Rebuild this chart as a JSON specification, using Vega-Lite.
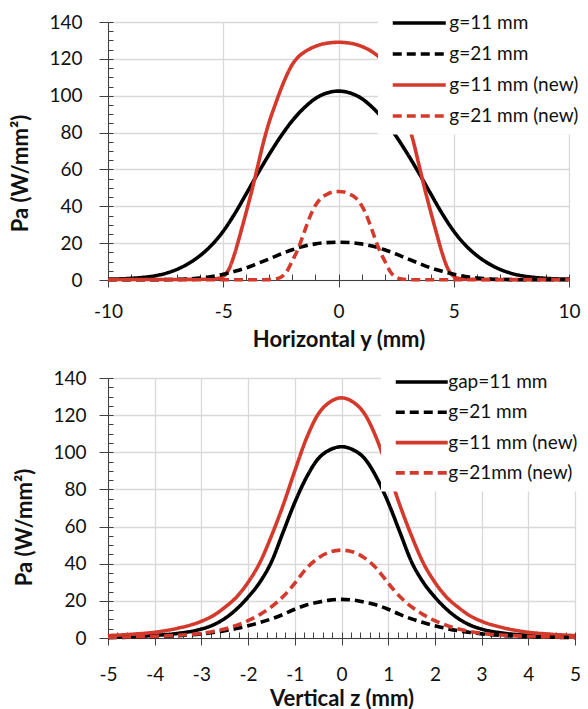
{
  "$schema": "https://vega.github.io/schema/vega-lite/v6.json",
  "background": "white",
  "padding": {"top": 5, "left": 9, "right": 0, "bottom": 0},
  "spacing": 13,
  "columns": 1,
  "align": "none",
  "config": {
    "font": "Lato",
    "view": {"stroke": "#595959", "strokeWidth": 1},
    "axis": {
      "labelFont": "Lato", "labelFontSize": 19, "labelColor": "#111111", "labelFlush": false,
      "titleFont": "Lato", "titleFontSize": 22, "titleFontWeight": "bold", "titleColor": "#111111",
      "domainColor": "#404040", "tickColor": "#404040", "gridColor": "#d9d9d9", "gridWidth": 1.3
    },
    "line": {"strokeWidth": 3.6, "interpolate": "monotone"}
  },
  "resolve": {"scale": {"color": "independent", "strokeDash": "independent"}, "legend": {"color": "independent", "strokeDash": "independent"}},
  "concat": [
    {
      "width": 461,
      "height": 258,
      "data": {"values": [
        {"h": -10, "pa": 0.5, "s": "g=11 mm"}, {"h": -9.5, "pa": 0.6, "s": "g=11 mm"}, {"h": -9, "pa": 0.9, "s": "g=11 mm"}, {"h": -8.5, "pa": 1.4, "s": "g=11 mm"}, {"h": -8, "pa": 2.2, "s": "g=11 mm"}, {"h": -7.5, "pa": 3.6, "s": "g=11 mm"}, {"h": -7, "pa": 5.8, "s": "g=11 mm"}, {"h": -6.5, "pa": 9, "s": "g=11 mm"}, {"h": -6, "pa": 13.3, "s": "g=11 mm"}, {"h": -5.5, "pa": 19, "s": "g=11 mm"}, {"h": -5, "pa": 26.5, "s": "g=11 mm"}, {"h": -4.5, "pa": 36, "s": "g=11 mm"}, {"h": -4, "pa": 46.8, "s": "g=11 mm"}, {"h": -3.5, "pa": 57.8, "s": "g=11 mm"}, {"h": -3, "pa": 68.3, "s": "g=11 mm"}, {"h": -2.5, "pa": 78, "s": "g=11 mm"}, {"h": -2, "pa": 86.5, "s": "g=11 mm"}, {"h": -1.5, "pa": 93.3, "s": "g=11 mm"}, {"h": -1, "pa": 98.5, "s": "g=11 mm"}, {"h": -0.5, "pa": 101.5, "s": "g=11 mm"}, {"h": 0, "pa": 102.5, "s": "g=11 mm"}, {"h": 0.5, "pa": 101.5, "s": "g=11 mm"}, {"h": 1, "pa": 98.5, "s": "g=11 mm"}, {"h": 1.5, "pa": 93.3, "s": "g=11 mm"}, {"h": 2, "pa": 86.5, "s": "g=11 mm"}, {"h": 2.5, "pa": 78, "s": "g=11 mm"}, {"h": 3, "pa": 68.3, "s": "g=11 mm"}, {"h": 3.5, "pa": 57.8, "s": "g=11 mm"}, {"h": 4, "pa": 46.8, "s": "g=11 mm"}, {"h": 4.5, "pa": 36, "s": "g=11 mm"}, {"h": 5, "pa": 26.5, "s": "g=11 mm"}, {"h": 5.5, "pa": 19, "s": "g=11 mm"}, {"h": 6, "pa": 13.3, "s": "g=11 mm"}, {"h": 6.5, "pa": 9, "s": "g=11 mm"}, {"h": 7, "pa": 5.8, "s": "g=11 mm"}, {"h": 7.5, "pa": 3.6, "s": "g=11 mm"}, {"h": 8, "pa": 2.2, "s": "g=11 mm"}, {"h": 8.5, "pa": 1.4, "s": "g=11 mm"}, {"h": 9, "pa": 0.9, "s": "g=11 mm"}, {"h": 9.5, "pa": 0.6, "s": "g=11 mm"}, {"h": 10, "pa": 0.5, "s": "g=11 mm"},
        {"h": -10, "pa": 0.1, "s": "g=21 mm"}, {"h": -9, "pa": 0.1, "s": "g=21 mm"}, {"h": -8, "pa": 0.1, "s": "g=21 mm"}, {"h": -7.5, "pa": 0.2, "s": "g=21 mm"}, {"h": -7, "pa": 0.3, "s": "g=21 mm"}, {"h": -6.5, "pa": 0.6, "s": "g=21 mm"}, {"h": -6, "pa": 1.1, "s": "g=21 mm"}, {"h": -5.5, "pa": 1.9, "s": "g=21 mm"}, {"h": -5, "pa": 3.1, "s": "g=21 mm"}, {"h": -4.5, "pa": 4.7, "s": "g=21 mm"}, {"h": -4, "pa": 6.6, "s": "g=21 mm"}, {"h": -3.5, "pa": 9, "s": "g=21 mm"}, {"h": -3, "pa": 11.5, "s": "g=21 mm"}, {"h": -2.5, "pa": 14.1, "s": "g=21 mm"}, {"h": -2, "pa": 16.4, "s": "g=21 mm"}, {"h": -1.5, "pa": 18.3, "s": "g=21 mm"}, {"h": -1, "pa": 19.6, "s": "g=21 mm"}, {"h": -0.5, "pa": 20.3, "s": "g=21 mm"}, {"h": 0, "pa": 20.5, "s": "g=21 mm"}, {"h": 0.5, "pa": 20.3, "s": "g=21 mm"}, {"h": 1, "pa": 19.6, "s": "g=21 mm"}, {"h": 1.5, "pa": 18.3, "s": "g=21 mm"}, {"h": 2, "pa": 16.4, "s": "g=21 mm"}, {"h": 2.5, "pa": 14.1, "s": "g=21 mm"}, {"h": 3, "pa": 11.5, "s": "g=21 mm"}, {"h": 3.5, "pa": 9, "s": "g=21 mm"}, {"h": 4, "pa": 6.6, "s": "g=21 mm"}, {"h": 4.5, "pa": 4.7, "s": "g=21 mm"}, {"h": 5, "pa": 3.1, "s": "g=21 mm"}, {"h": 5.5, "pa": 1.9, "s": "g=21 mm"}, {"h": 6, "pa": 1.1, "s": "g=21 mm"}, {"h": 6.5, "pa": 0.6, "s": "g=21 mm"}, {"h": 7, "pa": 0.3, "s": "g=21 mm"}, {"h": 7.5, "pa": 0.2, "s": "g=21 mm"}, {"h": 8, "pa": 0.1, "s": "g=21 mm"}, {"h": 9, "pa": 0.1, "s": "g=21 mm"}, {"h": 10, "pa": 0.1, "s": "g=21 mm"},
        {"h": -10, "pa": 0.3, "s": "g=11 mm (new)"}, {"h": -8, "pa": 0.3, "s": "g=11 mm (new)"}, {"h": -7, "pa": 0.3, "s": "g=11 mm (new)"}, {"h": -6, "pa": 0.4, "s": "g=11 mm (new)"}, {"h": -5.5, "pa": 0.5, "s": "g=11 mm (new)"}, {"h": -5.25, "pa": 0.8, "s": "g=11 mm (new)"}, {"h": -5, "pa": 2, "s": "g=11 mm (new)"}, {"h": -4.75, "pa": 6, "s": "g=11 mm (new)"}, {"h": -4.5, "pa": 14.5, "s": "g=11 mm (new)"}, {"h": -4.25, "pa": 25.5, "s": "g=11 mm (new)"}, {"h": -4, "pa": 37, "s": "g=11 mm (new)"}, {"h": -3.75, "pa": 49, "s": "g=11 mm (new)"}, {"h": -3.5, "pa": 62, "s": "g=11 mm (new)"}, {"h": -3.25, "pa": 75, "s": "g=11 mm (new)"}, {"h": -3, "pa": 86, "s": "g=11 mm (new)"}, {"h": -2.75, "pa": 95, "s": "g=11 mm (new)"}, {"h": -2.5, "pa": 103.5, "s": "g=11 mm (new)"}, {"h": -2.25, "pa": 111, "s": "g=11 mm (new)"}, {"h": -2, "pa": 117, "s": "g=11 mm (new)"}, {"h": -1.75, "pa": 121, "s": "g=11 mm (new)"}, {"h": -1.5, "pa": 123.5, "s": "g=11 mm (new)"}, {"h": -1, "pa": 126.8, "s": "g=11 mm (new)"}, {"h": -0.5, "pa": 128.5, "s": "g=11 mm (new)"}, {"h": 0, "pa": 129, "s": "g=11 mm (new)"}, {"h": 0.5, "pa": 128.5, "s": "g=11 mm (new)"}, {"h": 1, "pa": 126.8, "s": "g=11 mm (new)"}, {"h": 1.5, "pa": 123.5, "s": "g=11 mm (new)"}, {"h": 1.75, "pa": 121, "s": "g=11 mm (new)"}, {"h": 2, "pa": 117, "s": "g=11 mm (new)"}, {"h": 2.25, "pa": 111, "s": "g=11 mm (new)"}, {"h": 2.5, "pa": 103.5, "s": "g=11 mm (new)"}, {"h": 2.75, "pa": 95, "s": "g=11 mm (new)"}, {"h": 3, "pa": 86, "s": "g=11 mm (new)"}, {"h": 3.25, "pa": 75, "s": "g=11 mm (new)"}, {"h": 3.5, "pa": 62, "s": "g=11 mm (new)"}, {"h": 3.75, "pa": 49, "s": "g=11 mm (new)"}, {"h": 4, "pa": 37, "s": "g=11 mm (new)"}, {"h": 4.25, "pa": 25.5, "s": "g=11 mm (new)"}, {"h": 4.5, "pa": 14.5, "s": "g=11 mm (new)"}, {"h": 4.75, "pa": 6, "s": "g=11 mm (new)"}, {"h": 5, "pa": 2, "s": "g=11 mm (new)"}, {"h": 5.25, "pa": 0.8, "s": "g=11 mm (new)"}, {"h": 5.5, "pa": 0.5, "s": "g=11 mm (new)"}, {"h": 6, "pa": 0.4, "s": "g=11 mm (new)"}, {"h": 7, "pa": 0.3, "s": "g=11 mm (new)"}, {"h": 8, "pa": 0.3, "s": "g=11 mm (new)"}, {"h": 10, "pa": 0.3, "s": "g=11 mm (new)"},
        {"h": -10, "pa": 0.1, "s": "g=21 mm (new)"}, {"h": -6, "pa": 0.1, "s": "g=21 mm (new)"}, {"h": -4, "pa": 0.1, "s": "g=21 mm (new)"}, {"h": -3.5, "pa": 0.1, "s": "g=21 mm (new)"}, {"h": -3, "pa": 0.2, "s": "g=21 mm (new)"}, {"h": -2.75, "pa": 0.5, "s": "g=21 mm (new)"}, {"h": -2.5, "pa": 1.5, "s": "g=21 mm (new)"}, {"h": -2.25, "pa": 4.5, "s": "g=21 mm (new)"}, {"h": -2, "pa": 10.5, "s": "g=21 mm (new)"}, {"h": -1.75, "pa": 17, "s": "g=21 mm (new)"}, {"h": -1.5, "pa": 25.5, "s": "g=21 mm (new)"}, {"h": -1.25, "pa": 34, "s": "g=21 mm (new)"}, {"h": -1, "pa": 40.5, "s": "g=21 mm (new)"}, {"h": -0.75, "pa": 44.5, "s": "g=21 mm (new)"}, {"h": -0.5, "pa": 46.5, "s": "g=21 mm (new)"}, {"h": -0.25, "pa": 47.7, "s": "g=21 mm (new)"}, {"h": 0, "pa": 48, "s": "g=21 mm (new)"}, {"h": 0.25, "pa": 47.7, "s": "g=21 mm (new)"}, {"h": 0.5, "pa": 46.5, "s": "g=21 mm (new)"}, {"h": 0.75, "pa": 44.5, "s": "g=21 mm (new)"}, {"h": 1, "pa": 40.5, "s": "g=21 mm (new)"}, {"h": 1.25, "pa": 34, "s": "g=21 mm (new)"}, {"h": 1.5, "pa": 25.5, "s": "g=21 mm (new)"}, {"h": 1.75, "pa": 17, "s": "g=21 mm (new)"}, {"h": 2, "pa": 10.5, "s": "g=21 mm (new)"}, {"h": 2.25, "pa": 4.5, "s": "g=21 mm (new)"}, {"h": 2.5, "pa": 1.5, "s": "g=21 mm (new)"}, {"h": 2.75, "pa": 0.5, "s": "g=21 mm (new)"}, {"h": 3, "pa": 0.2, "s": "g=21 mm (new)"}, {"h": 3.5, "pa": 0.1, "s": "g=21 mm (new)"}, {"h": 4, "pa": 0.1, "s": "g=21 mm (new)"}, {"h": 6, "pa": 0.1, "s": "g=21 mm (new)"}, {"h": 10, "pa": 0.1, "s": "g=21 mm (new)"}
      ]},
      "resolve": {"axis": {"x": "independent", "y": "independent"}},
      "layer": [
        {
          "transform": [{"filter": "datum.s == 'g=11 mm' || datum.s == 'g=11 mm (new)'"}],
          "mark": {"type": "line"},
          "encoding": {
            "x": {"field": "h", "type": "quantitative", "scale": {"domain": [-10, 10], "nice": false},
                  "axis": {"values": [-10, -5, 0, 5, 10], "labelExpr": "'' + datum.value", "grid": true, "tickSize": 7, "labelPadding": 15, "title": "Horizontal y (mm)", "titlePadding": 8}},
            "y": {"field": "pa", "type": "quantitative", "scale": {"domain": [0, 140], "nice": false},
                  "axis": {"values": [0, 20, 40, 60, 80, 100, 120, 140], "grid": true, "tickSize": 9, "labelPadding": 17, "title": "Pa  (W/mm²)", "titlePadding": 16, "titleY": 151}},
            "color": {"field": "s", "type": "nominal",
                      "scale": {"domain": ["g=11 mm", "g=21 mm", "g=11 mm (new)", "g=21 mm (new)"], "range": ["#000000", "#000000", "#d43a2c", "#d43a2c"]},
                      "legend": {"orient": "none", "legendX": 270, "legendY": -16.5, "title": null, "fillColor": "white", "padding": 8, "symbolType": "M-5.3,0H5.3", "symbolSize": 100, "symbolStrokeWidth": 3.6, "symbolOffset": 23.75, "labelOffset": 20.5, "labelFontSize": 19, "labelFont": "Lato", "labelColor": "#111111", "rowPadding": 11, "labelLimit": 300}},
            "strokeDash": {"field": "s", "type": "nominal",
                      "scale": {"domain": ["g=11 mm", "g=21 mm", "g=11 mm (new)", "g=21 mm (new)"], "range": [[1, 0], [9, 5], [1, 0], [9, 5]]},
                      "legend": {"orient": "none", "legendX": 270, "legendY": -16.5, "title": null, "fillColor": "white", "padding": 8, "symbolType": "M-5.3,0H5.3", "symbolSize": 100, "symbolStrokeWidth": 3.6, "symbolOffset": 23.75, "labelOffset": 20.5, "labelFontSize": 19, "labelFont": "Lato", "labelColor": "#111111", "rowPadding": 11, "labelLimit": 300}}
          }
        },
        {
          "transform": [{"filter": "datum.s == 'g=21 mm' || datum.s == 'g=21 mm (new)'"}],
          "mark": {"type": "line"},
          "encoding": {
            "x": {"field": "h", "type": "quantitative",
                  "axis": {"orient": "bottom", "values": [-10, -9, -8, -7, -6, -5, -4, -3, -2, -1, 0, 1, 2, 3, 4, 5, 6, 7, 8, 9, 10], "labels": false, "domain": false, "grid": false, "tickSize": -6, "title": null}},
            "y": {"field": "pa", "type": "quantitative",
                  "axis": {"orient": "left", "values": [0, 5, 10, 15, 20, 25, 30, 35, 40, 45, 50, 55, 60, 65, 70, 75, 80, 85, 90, 95, 100, 105, 110, 115, 120, 125, 130, 135, 140], "labels": false, "domain": false, "grid": false, "tickSize": -5, "title": null}},
            "color": {"field": "s", "type": "nominal"},
            "strokeDash": {"field": "s", "type": "nominal"}
          }
        }
      ]
    },
    {
      "width": 467,
      "height": 260,
      "data": {"values": [
        {"v": -5, "pa": 0.5, "s": "gap=11 mm"}, {"v": -4.5, "pa": 0.8, "s": "gap=11 mm"}, {"v": -4, "pa": 1.4, "s": "gap=11 mm"}, {"v": -3.5, "pa": 2.5, "s": "gap=11 mm"}, {"v": -3, "pa": 4.8, "s": "gap=11 mm"}, {"v": -2.75, "pa": 7, "s": "gap=11 mm"}, {"v": -2.5, "pa": 10.5, "s": "gap=11 mm"}, {"v": -2.25, "pa": 15.5, "s": "gap=11 mm"}, {"v": -2, "pa": 22, "s": "gap=11 mm"}, {"v": -1.75, "pa": 30, "s": "gap=11 mm"}, {"v": -1.5, "pa": 41, "s": "gap=11 mm"}, {"v": -1.25, "pa": 57, "s": "gap=11 mm"}, {"v": -1, "pa": 73, "s": "gap=11 mm"}, {"v": -0.75, "pa": 86.5, "s": "gap=11 mm"}, {"v": -0.5, "pa": 96.5, "s": "gap=11 mm"}, {"v": -0.25, "pa": 101.3, "s": "gap=11 mm"}, {"v": 0, "pa": 103, "s": "gap=11 mm"}, {"v": 0.25, "pa": 101.3, "s": "gap=11 mm"}, {"v": 0.5, "pa": 96.5, "s": "gap=11 mm"}, {"v": 0.75, "pa": 86.5, "s": "gap=11 mm"}, {"v": 1, "pa": 73, "s": "gap=11 mm"}, {"v": 1.25, "pa": 57, "s": "gap=11 mm"}, {"v": 1.5, "pa": 41, "s": "gap=11 mm"}, {"v": 1.75, "pa": 30, "s": "gap=11 mm"}, {"v": 2, "pa": 22, "s": "gap=11 mm"}, {"v": 2.25, "pa": 15.5, "s": "gap=11 mm"}, {"v": 2.5, "pa": 10.5, "s": "gap=11 mm"}, {"v": 2.75, "pa": 7, "s": "gap=11 mm"}, {"v": 3, "pa": 4.8, "s": "gap=11 mm"}, {"v": 3.5, "pa": 2.5, "s": "gap=11 mm"}, {"v": 4, "pa": 1.4, "s": "gap=11 mm"}, {"v": 4.5, "pa": 0.8, "s": "gap=11 mm"}, {"v": 5, "pa": 0.5, "s": "gap=11 mm"},
        {"v": -5, "pa": 0.2, "s": "g=21 mm"}, {"v": -4.5, "pa": 0.4, "s": "g=21 mm"}, {"v": -4, "pa": 0.7, "s": "g=21 mm"}, {"v": -3.5, "pa": 1.3, "s": "g=21 mm"}, {"v": -3, "pa": 2.2, "s": "g=21 mm"}, {"v": -2.75, "pa": 3, "s": "g=21 mm"}, {"v": -2.5, "pa": 3.9, "s": "g=21 mm"}, {"v": -2.25, "pa": 5.1, "s": "g=21 mm"}, {"v": -2, "pa": 6.6, "s": "g=21 mm"}, {"v": -1.75, "pa": 8.3, "s": "g=21 mm"}, {"v": -1.5, "pa": 10.3, "s": "g=21 mm"}, {"v": -1.25, "pa": 12.7, "s": "g=21 mm"}, {"v": -1, "pa": 15.5, "s": "g=21 mm"}, {"v": -0.75, "pa": 17.8, "s": "g=21 mm"}, {"v": -0.5, "pa": 19.3, "s": "g=21 mm"}, {"v": -0.25, "pa": 20.4, "s": "g=21 mm"}, {"v": 0, "pa": 20.8, "s": "g=21 mm"}, {"v": 0.25, "pa": 20.4, "s": "g=21 mm"}, {"v": 0.5, "pa": 19.3, "s": "g=21 mm"}, {"v": 0.75, "pa": 17.8, "s": "g=21 mm"}, {"v": 1, "pa": 15.5, "s": "g=21 mm"}, {"v": 1.25, "pa": 12.7, "s": "g=21 mm"}, {"v": 1.5, "pa": 10.3, "s": "g=21 mm"}, {"v": 1.75, "pa": 8.3, "s": "g=21 mm"}, {"v": 2, "pa": 6.6, "s": "g=21 mm"}, {"v": 2.25, "pa": 5.1, "s": "g=21 mm"}, {"v": 2.5, "pa": 3.9, "s": "g=21 mm"}, {"v": 2.75, "pa": 3, "s": "g=21 mm"}, {"v": 3, "pa": 2.2, "s": "g=21 mm"}, {"v": 3.5, "pa": 1.3, "s": "g=21 mm"}, {"v": 4, "pa": 0.7, "s": "g=21 mm"}, {"v": 4.5, "pa": 0.4, "s": "g=21 mm"}, {"v": 5, "pa": 0.2, "s": "g=21 mm"},
        {"v": -5, "pa": 1.3, "s": "g=11 mm (new)"}, {"v": -4.5, "pa": 2, "s": "g=11 mm (new)"}, {"v": -4, "pa": 3.1, "s": "g=11 mm (new)"}, {"v": -3.5, "pa": 5.3, "s": "g=11 mm (new)"}, {"v": -3, "pa": 9, "s": "g=11 mm (new)"}, {"v": -2.75, "pa": 12, "s": "g=11 mm (new)"}, {"v": -2.5, "pa": 16.5, "s": "g=11 mm (new)"}, {"v": -2.25, "pa": 22, "s": "g=11 mm (new)"}, {"v": -2, "pa": 30, "s": "g=11 mm (new)"}, {"v": -1.75, "pa": 40.5, "s": "g=11 mm (new)"}, {"v": -1.5, "pa": 55, "s": "g=11 mm (new)"}, {"v": -1.25, "pa": 71.5, "s": "g=11 mm (new)"}, {"v": -1, "pa": 90, "s": "g=11 mm (new)"}, {"v": -0.75, "pa": 107.5, "s": "g=11 mm (new)"}, {"v": -0.5, "pa": 120.5, "s": "g=11 mm (new)"}, {"v": -0.25, "pa": 127, "s": "g=11 mm (new)"}, {"v": 0, "pa": 129.3, "s": "g=11 mm (new)"}, {"v": 0.25, "pa": 127, "s": "g=11 mm (new)"}, {"v": 0.5, "pa": 120.5, "s": "g=11 mm (new)"}, {"v": 0.75, "pa": 107.5, "s": "g=11 mm (new)"}, {"v": 1, "pa": 90, "s": "g=11 mm (new)"}, {"v": 1.25, "pa": 71.5, "s": "g=11 mm (new)"}, {"v": 1.5, "pa": 55, "s": "g=11 mm (new)"}, {"v": 1.75, "pa": 40.5, "s": "g=11 mm (new)"}, {"v": 2, "pa": 30, "s": "g=11 mm (new)"}, {"v": 2.25, "pa": 22, "s": "g=11 mm (new)"}, {"v": 2.5, "pa": 16.5, "s": "g=11 mm (new)"}, {"v": 2.75, "pa": 12, "s": "g=11 mm (new)"}, {"v": 3, "pa": 9, "s": "g=11 mm (new)"}, {"v": 3.5, "pa": 5.3, "s": "g=11 mm (new)"}, {"v": 4, "pa": 3.1, "s": "g=11 mm (new)"}, {"v": 4.5, "pa": 2, "s": "g=11 mm (new)"}, {"v": 5, "pa": 1.3, "s": "g=11 mm (new)"},
        {"v": -5, "pa": 0.4, "s": "g=21mm (new)"}, {"v": -4.5, "pa": 0.6, "s": "g=21mm (new)"}, {"v": -4, "pa": 0.9, "s": "g=21mm (new)"}, {"v": -3.5, "pa": 1.5, "s": "g=21mm (new)"}, {"v": -3, "pa": 2.5, "s": "g=21mm (new)"}, {"v": -2.75, "pa": 3.5, "s": "g=21mm (new)"}, {"v": -2.5, "pa": 4.8, "s": "g=21mm (new)"}, {"v": -2.25, "pa": 6.8, "s": "g=21mm (new)"}, {"v": -2, "pa": 9.3, "s": "g=21mm (new)"}, {"v": -1.75, "pa": 12.6, "s": "g=21mm (new)"}, {"v": -1.5, "pa": 16.8, "s": "g=21mm (new)"}, {"v": -1.25, "pa": 22.3, "s": "g=21mm (new)"}, {"v": -1, "pa": 29.5, "s": "g=21mm (new)"}, {"v": -0.75, "pa": 37.5, "s": "g=21mm (new)"}, {"v": -0.5, "pa": 43, "s": "g=21mm (new)"}, {"v": -0.25, "pa": 46.3, "s": "g=21mm (new)"}, {"v": 0, "pa": 47.3, "s": "g=21mm (new)"}, {"v": 0.25, "pa": 46.3, "s": "g=21mm (new)"}, {"v": 0.5, "pa": 43, "s": "g=21mm (new)"}, {"v": 0.75, "pa": 37.5, "s": "g=21mm (new)"}, {"v": 1, "pa": 29.5, "s": "g=21mm (new)"}, {"v": 1.25, "pa": 22.3, "s": "g=21mm (new)"}, {"v": 1.5, "pa": 16.8, "s": "g=21mm (new)"}, {"v": 1.75, "pa": 12.6, "s": "g=21mm (new)"}, {"v": 2, "pa": 9.3, "s": "g=21mm (new)"}, {"v": 2.25, "pa": 6.8, "s": "g=21mm (new)"}, {"v": 2.5, "pa": 4.8, "s": "g=21mm (new)"}, {"v": 2.75, "pa": 3.5, "s": "g=21mm (new)"}, {"v": 3, "pa": 2.5, "s": "g=21mm (new)"}, {"v": 3.5, "pa": 1.5, "s": "g=21mm (new)"}, {"v": 4, "pa": 0.9, "s": "g=21mm (new)"}, {"v": 4.5, "pa": 0.6, "s": "g=21mm (new)"}, {"v": 5, "pa": 0.4, "s": "g=21mm (new)"}
      ]},
      "resolve": {"axis": {"x": "independent", "y": "independent"}},
      "layer": [
        {
          "transform": [{"filter": "datum.s == 'gap=11 mm' || datum.s == 'g=11 mm (new)'"}],
          "mark": {"type": "line"},
          "encoding": {
            "x": {"field": "v", "type": "quantitative", "scale": {"domain": [-5, 5], "nice": false},
                  "axis": {"values": [-5, -4, -3, -2, -1, 0, 1, 2, 3, 4, 5], "labelExpr": "'' + datum.value", "grid": true, "tickSize": 7, "labelPadding": 20, "title": "Vertical z (mm)", "titlePadding": 4}},
            "y": {"field": "pa", "type": "quantitative", "scale": {"domain": [0, 140], "nice": false},
                  "axis": {"values": [0, 20, 40, 60, 80, 100, 120, 140], "grid": true, "tickSize": 9, "labelPadding": 13, "title": "Pa  (W/mm²)", "titlePadding": 16, "titleY": 149}},
            "color": {"field": "s", "type": "nominal",
                      "scale": {"domain": ["gap=11 mm", "g=21 mm", "g=11 mm (new)", "g=21mm (new)"], "range": ["#000000", "#000000", "#d43a2c", "#d43a2c"]},
                      "legend": {"orient": "none", "legendX": 273, "legendY": -13.5, "title": null, "fillColor": "white", "padding": 8, "symbolType": "M-5.2,0H5.2", "symbolSize": 100, "symbolStrokeWidth": 3.6, "symbolOffset": 23.25, "labelOffset": 17, "labelFontSize": 19, "labelFont": "Lato", "labelColor": "#111111", "rowPadding": 10.3, "labelLimit": 300}},
            "strokeDash": {"field": "s", "type": "nominal",
                      "scale": {"domain": ["gap=11 mm", "g=21 mm", "g=11 mm (new)", "g=21mm (new)"], "range": [[1, 0], [9, 5], [1, 0], [9, 5]]},
                      "legend": {"orient": "none", "legendX": 273, "legendY": -13.5, "title": null, "fillColor": "white", "padding": 8, "symbolType": "M-5.2,0H5.2", "symbolSize": 100, "symbolStrokeWidth": 3.6, "symbolOffset": 23.25, "labelOffset": 17, "labelFontSize": 19, "labelFont": "Lato", "labelColor": "#111111", "rowPadding": 10.3, "labelLimit": 300}}
          }
        },
        {
          "transform": [{"filter": "datum.s == 'g=21 mm' || datum.s == 'g=21mm (new)'"}],
          "mark": {"type": "line"},
          "encoding": {
            "x": {"field": "v", "type": "quantitative",
                  "axis": {"orient": "bottom", "values": [-5, -4.8, -4.6, -4.4, -4.2, -4, -3.8, -3.6, -3.4, -3.2, -3, -2.8, -2.6, -2.4, -2.2, -2, -1.8, -1.6, -1.4, -1.2, -1, -0.8, -0.6, -0.4, -0.2, 0, 0.2, 0.4, 0.6, 0.8, 1, 1.2, 1.4, 1.6, 1.8, 2, 2.2, 2.4, 2.6, 2.8, 3, 3.2, 3.4, 3.6, 3.8, 4, 4.2, 4.4, 4.6, 4.8, 5], "labels": false, "domain": false, "grid": false, "tickSize": -6, "title": null}},
            "y": {"field": "pa", "type": "quantitative",
                  "axis": {"orient": "left", "values": [0, 5, 10, 15, 20, 25, 30, 35, 40, 45, 50, 55, 60, 65, 70, 75, 80, 85, 90, 95, 100, 105, 110, 115, 120, 125, 130, 135, 140], "labels": false, "domain": false, "grid": false, "tickSize": -5, "title": null}},
            "color": {"field": "s", "type": "nominal"},
            "strokeDash": {"field": "s", "type": "nominal"}
          }
        }
      ]
    }
  ]
}
